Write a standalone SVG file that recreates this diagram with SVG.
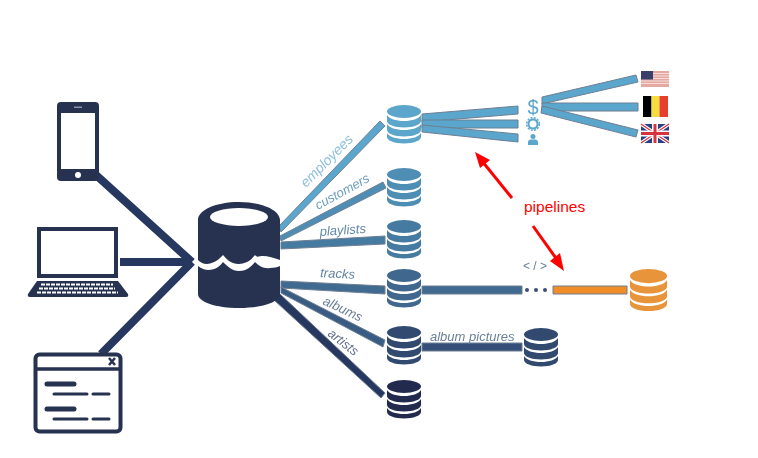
<svg xmlns="http://www.w3.org/2000/svg" width="758" height="458" viewBox="0 0 758 458">
<style>
.bar{stroke:#6f7f93;stroke-width:1;stroke-linejoin:round}
.lb{font-family:"Liberation Sans",Arial,sans-serif;font-style:italic;font-size:13px}
.navy{fill:#26304f}
.in{stroke:#26385f;stroke-width:8;fill:none}
.k{stroke:#fff;stroke-width:1.8;stroke-dasharray:4 1;fill:none}
</style>
<defs>
<filter id="soft" x="-5%" y="-5%" width="110%" height="110%"><feGaussianBlur stdDeviation="0.55"/></filter>
<g id="db">
<ellipse cx="17" cy="6.5" rx="17" ry="6.5"/>
<path d="M0 10v6c0 3.600 7.600 6.500 17 6.500s17-2.900 17-6.500v-6c-2 3.800-9 6-17 6s-15-2.200-17-6z"/>
<path d="M0 19v6c0 3.600 7.600 6.500 17 6.500s17-2.900 17-6.500v-6c-2 3.800-9 6-17 6s-15-2.200-17-6z"/>
<path d="M0 28v4c0 3.600 7.600 6.500 17 6.500s17-2.900 17-6.500v-4c-2 3.800-9 6-17 6s-15-2.200-17-6z"/>
</g>
</defs>
<rect width="758" height="458" fill="#fff"/>
<g filter="url(#soft)">
<g id="connectors">
<path class="in" d="M96 175L192 262M120 262H190M101 354L192 262"/>
<polygon class="bar" fill="#5aa6cc" points="279,226 380,121 385,126 281,232"/>
<polygon class="bar" fill="#4f8eb4" points="280,236 383,182 386,188 281,241"/>
<polygon class="bar" fill="#457aa1" points="281,242 385,236 385,244 281,249"/>
<polygon class="bar" fill="#3f6a90" points="281,281 385,286 385,294 281,288"/>
<polygon class="bar" fill="#395b83" points="281,287 385,340 383,347 281,293"/>
<polygon class="bar" fill="#26385f" points="279,293 385,393 381,398 274,300"/>
<polygon class="bar" fill="#5aa6cc" points="422,114 518,106 518,114 422,122"/>
<polygon class="bar" fill="#5aa6cc" points="422,120 518,120 518,128 422,128"/>
<polygon class="bar" fill="#5aa6cc" points="422,125 518,134 518,142 422,132"/>
<polygon class="bar" fill="#5aa6cc" points="542,97 636,75 638,82 542,104"/>
<polygon class="bar" fill="#5aa6cc" points="542,103 638,103 638,111 542,111"/>
<polygon class="bar" fill="#5aa6cc" points="542,106 638,130 636,137 541,113"/>
<rect class="bar" x="422" y="286" width="100" height="8" fill="#3f6a90"/>
<rect class="bar" x="553" y="286" width="74" height="8" fill="#f08d28"/>
<rect class="bar" x="422" y="343" width="100" height="8" fill="#345078"/>
<g fill="#3c5070"><circle cx="527" cy="290" r="2"/><circle cx="536" cy="290" r="2"/><circle cx="545" cy="290" r="2"/></g>
</g>
<g id="phone">
<rect x="57" y="102" width="42" height="79" rx="4" class="navy"/>
<rect x="61" y="113" width="34" height="56" fill="#fff"/>
<circle cx="78" cy="175" r="3" fill="#fff"/>
<rect x="74" y="106.500" width="8" height="1.500" fill="#8a93a8"/>
</g>
<g id="laptop">
<rect x="39" y="229" width="77" height="47" fill="#fff" stroke="#26304f" stroke-width="4"/>
<path class="navy" d="M37 281H118L128 294Q129 297 126 297H30Q27 297 28 294Z"/>
<path class="k" d="M41 284.500H113M39 288.500H115M37 292.500H118"/>
</g>
<g id="window">
<rect x="35.500" y="354.500" width="85" height="77" rx="4" fill="#fff" stroke="#26304f" stroke-width="4"/>
<path d="M36 369H120" stroke="#26304f" stroke-width="3.500"/>
<path d="M109 358L115 365M115 358L109 365" stroke="#26304f" stroke-width="2.500"/>
<g stroke="#26304f" stroke-linecap="round" fill="none">
<path stroke-width="5" d="M47 384H74M47 409H74"/>
<path stroke-width="3" d="M54 394H87M93 394H109M54 419H87M93 419H109"/>
</g>
</g>
<g id="hub">
<path class="navy" d="M198 260V220C198 210 216 202 239 202S280 210 280 220V260C274 258 268 256 263 256C259 256 257 258 255 255C252 258 250 263 239 264C230 264 226 258 223 255C220 258 216 263 207 264C203 264 200 262 198 260Z"/>
<path class="navy" d="M198 266C202 269 206 270 208 270C216 270 220 266 223 262C227 266 232 271 239 271C247 271 252 266 255 262C259 266 264 269 270 268C274 268 278 267 280 266V294C280 302 262 308 239 308S198 302 198 294Z"/>
<ellipse cx="239" cy="217" rx="29" ry="9" fill="#fff"/>
</g>
<g id="db-employees" fill="#5ba5cb"><use href="#db" x="387" y="105"/></g>
<g id="db-customers" fill="#4f8eb4"><use href="#db" x="387" y="168"/></g>
<g id="db-playlists" fill="#457aa1"><use href="#db" x="387" y="220"/></g>
<g id="db-tracks" fill="#40688e"><use href="#db" x="387" y="269"/></g>
<g id="db-albums" fill="#30496f"><use href="#db" x="387" y="326"/></g>
<g id="db-artists" fill="#232a4e"><use href="#db" x="387" y="380"/></g>
<g id="db-pictures" fill="#30496f"><use href="#db" x="524" y="328"/></g>
<g id="db-orange" fill="#e8943a"><use href="#db" transform="translate(630 269) scale(1.090 1.090)"/></g>
<g id="icons" fill="#5aa6cc">
<text x="533" y="114" text-anchor="middle" font-family="Liberation Sans,Arial,sans-serif" font-size="20">$</text>
<circle cx="533" cy="124" r="4.500" fill="none" stroke="#5aa6cc" stroke-width="2"/>
<circle cx="533" cy="124" r="6.300" fill="none" stroke="#5aa6cc" stroke-width="1.500" stroke-dasharray="2 1.300"/>
<circle cx="533" cy="136.500" r="2.500"/>
<path d="M528 145V142.500Q528 139.500 531 139.500H535Q538 139.500 538 142.500V145Z"/>
</g>
<g id="flag-us">
<rect x="641" y="71" width="28" height="16" fill="#e6a9a2"/>
<path d="M641 73.500H669M641 76H669M641 78.500H669M641 81H669M641 83.500H669" stroke="#f5dcd8" stroke-width="1"/>
<rect x="641" y="71" width="12" height="8.500" fill="#3a3f6b"/>
</g>
<g id="flag-be">
<rect x="643" y="96" width="8.500" height="21" fill="#000"/>
<rect x="651.500" y="96" width="8" height="21" fill="#f7dc3c"/>
<rect x="659.500" y="96" width="8.500" height="21" fill="#e5402f"/>
</g>
<g id="flag-uk">
<rect x="641" y="124" width="28" height="19" fill="#2b3f86"/>
<path d="M641 124L669 143M669 124L641 143" stroke="#fff" stroke-width="3.500"/>
<path d="M641 124L669 143M669 124L641 143" stroke="#d8333f" stroke-width="1.200"/>
<path d="M655 124V143M641 133.500H669" stroke="#fff" stroke-width="6"/>
<path d="M655 124V143M641 133.500H669" stroke="#d8333f" stroke-width="3"/>
</g>
<g id="labels" class="lb">
<text transform="translate(306 188) rotate(-45)" font-size="14" fill="#8cbfdb">employees</text>
<text transform="translate(318 210) rotate(-29)" fill="#6e9fc0">customers</text>
<text transform="translate(320 236) rotate(-4)" fill="#6488a8">playlists</text>
<text transform="translate(320 277) rotate(3)" fill="#64829f">tracks</text>
<text transform="translate(322 304) rotate(25)" fill="#6a7f99">albums</text>
<text transform="translate(327 335) rotate(38)" fill="#626f8c">artists</text>
<text x="430" y="341" fill="#6a7f99">album pictures</text>
<text x="523" y="270" font-style="normal" font-size="12" fill="#6a7f99">&lt; / &gt;</text>
</g>
</g>
<g id="annotation">
<text x="524" y="212" font-family="Liberation Sans,Arial,sans-serif" font-size="15.500" fill="#f00">pipelines</text>
<path d="M512 198L482 161" stroke="#f00" stroke-width="3" fill="none"/>
<polygon fill="#f00" points="475,152 490,160 480,168"/>
<path d="M533 226L558 261" stroke="#f00" stroke-width="3" fill="none"/>
<polygon fill="#f00" points="564,271 550,261 560,253"/>
</g>
</svg>
